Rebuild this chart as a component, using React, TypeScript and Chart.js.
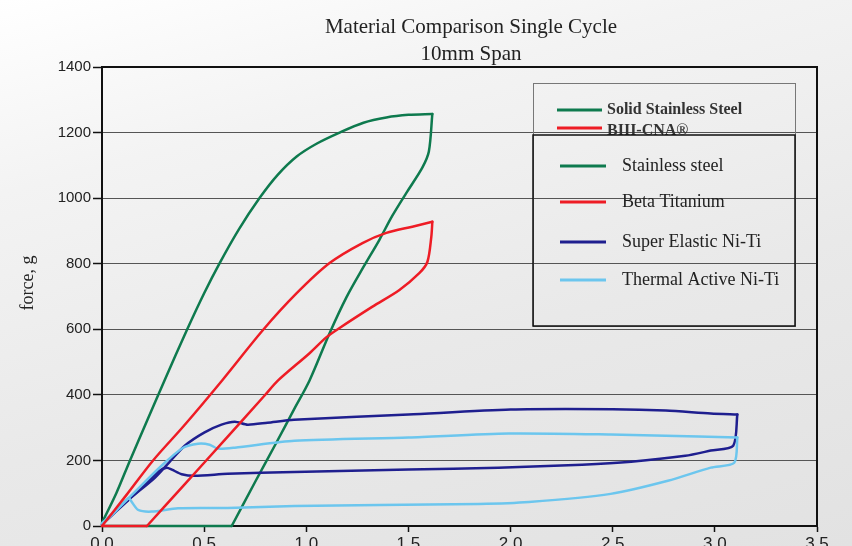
import React, { useEffect, useRef } from "react";
import { Chart, registerables } from "chart.js";

Chart.register(...registerables);

const TITLE_LINES = ["Material Comparison Single Cycle", "10mm Span"];
const Y_TITLE = "force, g";
const X_TICKS = [0, 0.5, 1, 1.5, 2, 2.5, 3, 3.5];
const Y_TICKS = [0, 200, 400, 600, 800, 1000, 1200, 1400];

const SERIES_NAMES = ["Stainless steel", "Beta Titanium", "Super Elastic Ni-Ti", "Thermal Active Ni-Ti"];
const TOP_LEGEND = ["Solid Stainless Steel", "BIII-CNA®"];

// Stainless steel
const stainlessLoadX = [0, 0.07, 0.137, 0.22, 0.306, 0.415, 0.5, 0.576, 0.67, 0.772, 0.86, 0.953, 1.05, 1.163, 1.28, 1.392, 1.5, 1.617];
const stainlessLoadY = [10, 100, 200, 320, 444, 597, 710, 802, 905, 1001, 1071, 1127, 1166, 1200, 1230, 1246, 1254, 1257];
const stainlessUnloadX = [1.617, 1.6, 1.568, 1.49, 1.42, 1.358, 1.28, 1.197, 1.114, 1.016, 0.942, 0.85, 0.75, 0.635];
const stainlessUnloadY = [1257, 1142, 1093, 1016, 945, 873, 790, 698, 588, 444, 358, 250, 135, 0];
const stainlessReturnX = [0.635, 0];
const stainlessReturnY = [0, 0];

// Beta titanium
const betaLoadX = [0, 0.12, 0.25, 0.4, 0.588, 0.787, 0.953, 1.114, 1.275, 1.392, 1.519, 1.617];
const betaLoadY = [0, 95, 200, 305, 444, 597, 710, 802, 863, 894, 913, 928];
const betaUnloadX = [1.617, 1.612, 1.593, 1.553, 1.456, 1.324, 1.163, 1.099, 1.016, 0.862, 0.796, 0.6, 0.4, 0.22];
const betaUnloadY = [928, 882, 806, 771, 720, 669, 604, 576, 527, 444, 398, 262, 124, 0];
const betaReturnX = [0.22, 0];
const betaReturnY = [0, 0];

// Super elastic Ni-Ti
const superLoadX = [0, 0.13, 0.26, 0.33, 0.405, 0.5, 0.585, 0.65, 0.713, 0.81, 0.94, 1.5, 2.0, 2.5, 2.76, 2.98, 3.11];
const superLoadY = [5, 80, 148, 195, 245, 285, 309, 318, 309, 315, 324, 340, 355, 356, 352, 343, 340];
const superUnloadX = [3.11, 3.09, 2.98, 2.855, 2.59, 2.35, 1.94, 1.5, 0.94, 0.615, 0.454, 0.39, 0.342, 0.317, 0.28, 0.2, 0.13, 0];
const superUnloadY = [340, 245, 230, 214, 196, 187, 178, 172, 165, 159, 153, 158, 172, 178, 168, 120, 80, 5];

// Thermal active Ni-Ti
const thermalLoadX = [0, 0.13, 0.29, 0.395, 0.47, 0.527, 0.566, 0.65, 0.942, 1.5, 1.99, 2.49, 2.92, 3.11];
const thermalLoadY = [8, 85, 183, 238, 251, 248, 236, 239, 260, 270, 282, 279, 273, 270];
const thermalUnloadX = [3.11, 3.095, 2.98, 2.77, 2.49, 2.09, 1.845, 1.357, 0.942, 0.615, 0.372, 0.243, 0.177, 0.145, 0.13, 0.06, 0];
const thermalUnloadY = [270, 193, 178, 138, 98, 73, 67, 64, 61, 55, 54, 44, 49, 74, 85, 40, 8];

const COLORS = ["#0e7a4e", "#ee1c25", "#1f1f8f", "#6cc6ee"];

const SERIF = '"Liberation Serif", "Times New Roman", serif';
const SANS = '"Liberation Sans", Arial, sans-serif';

const pts = (xs: number[], ys: number[]) => xs.map((x, i) => ({ x, y: ys[i] }));

const decorPlugin = {
  id: "decor",
  afterDraw(chart: any) {
    const { ctx, chartArea } = chart;
    const { left, right, top, bottom } = chartArea;
    ctx.save();
    ctx.strokeStyle = "#111";
    ctx.lineWidth = 2;
    ctx.beginPath();
    ctx.moveTo(left - 1, top);
    ctx.lineTo(right, top);
    ctx.lineTo(right, bottom + 1);
    ctx.stroke();

    ctx.fillStyle = "#222";
    ctx.textAlign = "center";
    ctx.textBaseline = "alphabetic";
    ctx.font = `21px ${SERIF}`;
    ctx.fillText(TITLE_LINES[0], 471, 33);
    ctx.fillText(TITLE_LINES[1], 471, 60);

    ctx.strokeStyle = "#777";
    ctx.lineWidth = 1;
    ctx.strokeRect(533.5, 83.5, 262, 243);
    ctx.textAlign = "left";
    ctx.textBaseline = "middle";
    ctx.font = `bold 16px ${SERIF}`;
    ctx.lineWidth = 3;
    ctx.strokeStyle = COLORS[0];
    ctx.beginPath(); ctx.moveTo(557, 110); ctx.lineTo(602, 110); ctx.stroke();
    ctx.fillStyle = "#333";
    ctx.fillText(TOP_LEGEND[0], 607, 110);
    ctx.strokeStyle = COLORS[1];
    ctx.beginPath(); ctx.moveTo(557, 128); ctx.lineTo(602, 128); ctx.stroke();
    ctx.save();
    ctx.beginPath(); ctx.rect(530, 90, 270, 45); ctx.clip();
    ctx.fillText(TOP_LEGEND[1], 607, 131);
    ctx.restore();

    ctx.strokeStyle = "#111";
    ctx.lineWidth = 1.5;
    ctx.strokeRect(533, 135, 262, 191);
    const ys = [166, 202, 242, 280];
    ctx.font = `18px ${SERIF}`;
    ctx.fillStyle = "#222";
    SERIES_NAMES.forEach((name, i) => {
      ctx.strokeStyle = COLORS[i];
      ctx.lineWidth = 3;
      ctx.beginPath(); ctx.moveTo(560, ys[i]); ctx.lineTo(606, ys[i]); ctx.stroke();
      ctx.fillText(name, 622, ys[i]);
    });

    ctx.translate(28, 283);
    ctx.rotate(-Math.PI / 2);
    ctx.textAlign = "center";
    ctx.font = `18px ${SERIF}`;
    ctx.fillStyle = "#222";
    ctx.fillText(Y_TITLE, 0, 0);
    ctx.restore();
  },
};

export default function App() {
  const ref = useRef<HTMLCanvasElement>(null);
  useEffect(() => {
    document.body.style.margin = "0";
    // [series index, xs, ys, tension, order]
    const pieces: [number, number[], number[], number, number][] = [
      [0, stainlessLoadX, stainlessLoadY, 0.3, 4],
      [0, stainlessUnloadX, stainlessUnloadY, 0.3, 4],
      [0, stainlessReturnX, stainlessReturnY, 0, 4],
      [1, betaLoadX, betaLoadY, 0.3, 1],
      [1, betaUnloadX, betaUnloadY, 0.3, 1],
      [1, betaReturnX, betaReturnY, 0, 1],
      [2, superLoadX, superLoadY, 0.25, 3],
      [2, superUnloadX, superUnloadY, 0.25, 3],
      [3, thermalLoadX, thermalLoadY, 0.25, 2],
      [3, thermalUnloadX, thermalUnloadY, 0.25, 2],
    ];
    const chart = new Chart(ref.current!, {
      type: "scatter",
      data: {
        datasets: pieces.map(([si, xs, ys, t, o]) => ({
          label: SERIES_NAMES[si],
          data: pts(xs, ys),
          showLine: true,
          borderColor: COLORS[si],
          backgroundColor: COLORS[si],
          borderWidth: 2.5,
          pointRadius: 0,
          tension: t,
          borderCapStyle: "round" as any,
          borderJoinStyle: "round" as any,
          clip: false as any,
          order: o,
        })),
      },
      options: {
        animation: false,
        responsive: false,
        layout: { padding: { top: 67, right: 35, left: 0, bottom: 0 } },
        plugins: { legend: { display: false }, tooltip: { enabled: false }, title: { display: false } },
        scales: {
          x: {
            type: "linear",
            min: 0,
            max: 3.5,
            afterFit: (s: any) => { s.height = 20; },
            afterBuildTicks: (s: any) => { s.ticks = X_TICKS.map((v) => ({ value: v })); },
            ticks: {
              callback: (v: any) => Number(v).toFixed(1),
              font: { family: SANS, size: 17 },
              color: "#222",
              padding: 2,
              maxRotation: 0,
              autoSkip: false,
            },
            grid: { drawOnChartArea: false, drawTicks: true, tickLength: 6, tickColor: "#111", tickWidth: 1.5 },
            border: { color: "#111", width: 2 },
          },
          y: {
            type: "linear",
            min: 0,
            max: 1400,
            afterFit: (s: any) => { s.width = 102; },
            afterBuildTicks: (s: any) => { s.ticks = Y_TICKS.map((v) => ({ value: v })); },
            ticks: {
              callback: (v: any) => String(v),
              font: { family: SANS, size: 15 },
              color: "#222",
              padding: 2,
            },
            grid: { color: "#555", lineWidth: 1, tickLength: 9, tickColor: "#111", tickWidth: 1.5 },
            border: { color: "#111", width: 2 },
          },
        },
      },
      plugins: [decorPlugin],
    });
    return () => chart.destroy();
  }, []);
  return (
    <div
      style={{
        width: 852,
        height: 546,
        background: "linear-gradient(165deg, #ffffff 0%, #f3f3f3 25%, #e9e9e9 60%, #e2e2e2 100%)",
      }}
    >
      <canvas ref={ref} width={852} height={546} />
    </div>
  );
}
